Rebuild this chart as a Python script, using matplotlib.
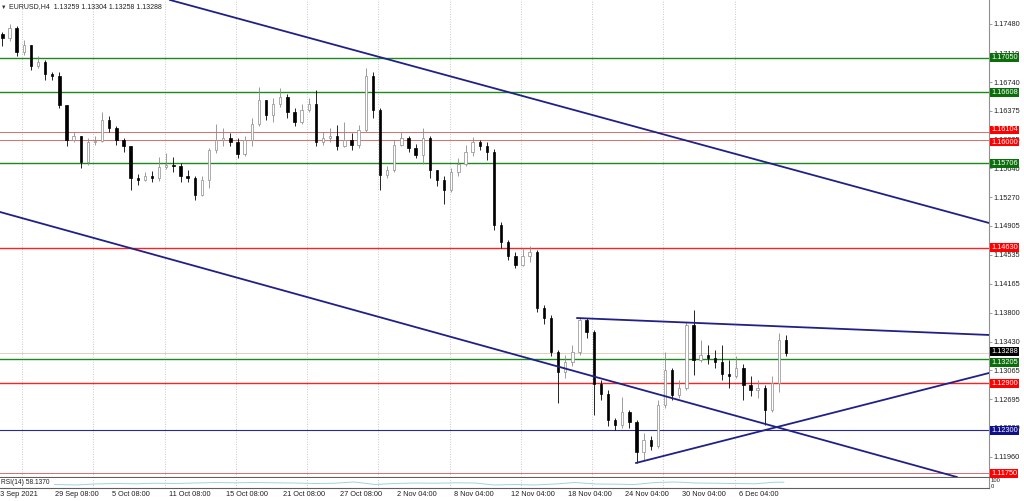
import matplotlib.pyplot as plt
import matplotlib.transforms as mtransforms

plt.rcParams['font.family'] = ['Liberation Sans', 'DejaVu Sans']

# EURUSD H4 candles, each drawn candle groups 3 H4 bars (open = previous close)
first_open = 1.1735
closes = [1.1730, 1.1743, 1.1712, 1.1721, 1.1694, 1.1700, 1.1684, 1.1682, 1.1645, 1.1600,
          1.1605, 1.1572, 1.1598, 1.1599, 1.1626, 1.1615, 1.1600, 1.1592, 1.1552, 1.1549,
          1.1554, 1.1552, 1.1566, 1.1568, 1.1567, 1.1554, 1.1552, 1.1530, 1.1549, 1.1587,
          1.1600, 1.1603, 1.1598, 1.1582, 1.1600, 1.1620, 1.1651, 1.1632, 1.1646, 1.1655,
          1.1636, 1.1623, 1.1638, 1.1646, 1.1598, 1.1603, 1.1605, 1.1592, 1.1600, 1.1594,
          1.1613, 1.1682, 1.1638, 1.1555, 1.1562, 1.1594, 1.1603, 1.1590, 1.1581, 1.1603,
          1.1562, 1.1549, 1.1536, 1.1559, 1.1570, 1.1585, 1.1598, 1.1592, 1.1585, 1.1492,
          1.1470, 1.1452, 1.1441, 1.1452, 1.1457, 1.1386, 1.1373, 1.1330, 1.1304, 1.1317,
          1.1330, 1.1371, 1.1355, 1.1289, 1.1276, 1.1243, 1.1237, 1.1253, 1.1241, 1.1202,
          1.1218, 1.1210, 1.1262, 1.1307, 1.1275, 1.1284, 1.1364, 1.1320, 1.1326, 1.1322,
          1.1317, 1.1302, 1.1299, 1.1309, 1.1288, 1.1281, 1.1284, 1.1256, 1.1290, 1.1345,
          1.13288]
highs = [1.1738, 1.1748, 1.1745, 1.1728, 1.1721, 1.1707, 1.1702, 1.1687, 1.1687, 1.1645,
         1.1610, 1.1605, 1.1603, 1.1605, 1.1636, 1.1631, 1.1618, 1.1603, 1.1592, 1.1557,
         1.1559, 1.1561, 1.1578, 1.1584, 1.1578, 1.1571, 1.1562, 1.1554, 1.1554, 1.1590,
         1.1620, 1.1615, 1.1609, 1.1603, 1.1605, 1.1628, 1.1668, 1.1651, 1.1654, 1.1666,
         1.1659, 1.1641, 1.1646, 1.1654, 1.1664, 1.1610, 1.1615, 1.1619, 1.1623, 1.1609,
         1.1619, 1.1692, 1.1687, 1.1641, 1.1567, 1.1600, 1.1610, 1.1605, 1.1595, 1.1615,
         1.1605, 1.1562, 1.1554, 1.1564, 1.1577, 1.1594, 1.1604, 1.1600, 1.1598, 1.1588,
         1.1496, 1.1472, 1.1457, 1.1462, 1.1465, 1.1460, 1.1390, 1.1377, 1.1332, 1.1326,
         1.1339, 1.1374, 1.1373, 1.1358, 1.1294, 1.1281, 1.1246, 1.1272, 1.1256, 1.1243,
         1.1227, 1.1223, 1.1269, 1.1330, 1.1310, 1.1294, 1.1368, 1.1383, 1.1345, 1.1339,
         1.1332, 1.1339, 1.1320, 1.1325, 1.1315, 1.1299, 1.1294, 1.1288, 1.1299, 1.1354,
         1.1352]
lows = [1.1720, 1.1726, 1.1707, 1.1708, 1.1689, 1.1692, 1.1677, 1.1677, 1.1641, 1.1592,
        1.1598, 1.1564, 1.1568, 1.1594, 1.1598, 1.1610, 1.1594, 1.1585, 1.1536, 1.1543,
        1.1548, 1.1547, 1.1548, 1.1563, 1.1559, 1.1547, 1.1547, 1.1524, 1.1529, 1.1539,
        1.1583, 1.1592, 1.1592, 1.1577, 1.1580, 1.1592, 1.1618, 1.1626, 1.1623, 1.1642,
        1.1628, 1.1618, 1.1620, 1.1636, 1.1592, 1.1594, 1.1598, 1.1587, 1.1591, 1.1587,
        1.1590, 1.1610, 1.1628, 1.1536, 1.1552, 1.1559, 1.1592, 1.1585, 1.1577, 1.1570,
        1.1552, 1.1541, 1.1519, 1.1534, 1.1554, 1.1567, 1.1580, 1.1587, 1.1575, 1.1485,
        1.1462, 1.1447, 1.1437, 1.1439, 1.1445, 1.1381, 1.1366, 1.1325, 1.1265, 1.1297,
        1.1312, 1.1326, 1.1348, 1.1250, 1.1269, 1.1235, 1.1230, 1.1233, 1.1233, 1.1188,
        1.1192, 1.1205, 1.1207, 1.1258, 1.1269, 1.1271, 1.1281, 1.1301, 1.1317, 1.1315,
        1.1309, 1.1294, 1.1284, 1.1297, 1.1269, 1.1274, 1.1271, 1.1237, 1.1253, 1.1279,
        1.1325]

# horizontal levels
green_levels = [1.17050, 1.16608, 1.15706, 1.13205]
red_levels = [1.14630, 1.12900]
pink_levels = [1.16104, 1.16000, 1.11750]
blue_levels = [1.12300]
bid = 1.13288

# trend lines: (bar index, price) pairs
channel_lines = [((71.6, 1.17786), (416.4, 1.14943)),
                 ((0.0, 1.15083), (401.3, 1.11717))]
ray_lines = [((243.0, 1.13731), (416.4, 1.13515)),
             ((267.8, 1.11883), (416.4, 1.13030))]

price_ticks = [1.11960, 1.12330, 1.12695, 1.13065, 1.13430, 1.13800, 1.14165, 1.14535,
               1.14905, 1.15270, 1.15640, 1.16005, 1.16375, 1.16740, 1.17110, 1.17480]

date_pos = [-1.5, 23, 47, 71, 95, 119, 143, 167, 191, 215, 239, 263, 287, 311]
date_labels = ['23 Sep 2021', '29 Sep 08:00', '5 Oct 08:00', '11 Oct 08:00', '15 Oct 08:00',
               '21 Oct 08:00', '27 Oct 08:00', '2 Nov 04:00', '8 Nov 04:00', '12 Nov 04:00',
               '18 Nov 04:00', '24 Nov 04:00', '30 Nov 04:00', '6 Dec 04:00']

rsi_pos = [23, 32, 40, 48, 57, 65, 74, 82, 91, 99, 107, 116, 124, 133, 141, 149, 158, 166, 175,
           183, 192, 200, 208, 217, 225, 234, 242, 251, 259, 267, 276, 284, 293, 301, 309, 318,
           326, 330]
rsi_vals = [35, 30, 40, 45, 42, 48, 45, 50, 55, 52, 55, 52, 50, 45, 48, 60, 35, 45, 50,
            48, 52, 50, 30, 35, 30, 40, 55, 40, 38, 35, 55, 60, 50, 48, 45, 42, 58, 58.137]

W, H = 1024, 501
XMAX = 416.4
PX = 0.0001275  # price per pixel, used to nudge labels apart like the terminal does
fig = plt.figure(figsize=(10.24, 5.01), dpi=100)
ax = fig.add_axes([0, 24 / H, 989 / W, 477 / H])
rsi = fig.add_axes([0, 13 / H, 989 / W, 10 / H])

ax.set_xlim(0, XMAX)
ax.set_ylim(1.11704, 1.17786)
rsi.set_xlim(0, XMAX)
rsi.set_ylim(0, 100)

# vertical dotted grid (only where bars exist)
grid_x = [9.3 + 30 * k for k in range(11)]
for a in (ax, rsi):
    for gx in grid_x:
        a.axvline(gx, color='#b8b8b8', lw=0.6, ls=(0, (1, 2)), zorder=0)

# candles
opens = [first_open] + closes[:-1]
xs = [3 * k + 1 for k in range(len(closes))]
for x, o, h, l, c in zip(xs, opens, highs, lows, closes):
    up = c >= o
    col = '#8c8c8c' if up else 'black'
    ax.vlines(x, l, h, colors=col, lw=0.6, zorder=3)
    body = max(abs(c - o), 0.00003)
    ax.bar(x, body, bottom=min(o, c), width=1.0, facecolor='white' if up else 'black',
           edgecolor=col, linewidth=0.5, zorder=4)

# levels
for p in green_levels:
    ax.axhline(p, color='#1b8a1b', lw=1.0, zorder=2)
for p in red_levels:
    ax.axhline(p, color='#ff2020', lw=1.0, zorder=2)
for p in pink_levels:
    ax.axhline(p, color='#e06b6b', lw=0.7, zorder=2)
for p in blue_levels:
    ax.axhline(p, color='#2a2a96', lw=0.8, zorder=2)
ax.axhline(bid, color='#dccbb0', lw=0.6, zorder=2)

# trend lines
for p1, p2 in channel_lines:
    ax.axline(p1, p2, color='#202088', lw=1.3, zorder=5)
for (x1, y1), (x2, y2) in ray_lines:
    slope = (y2 - y1) / (x2 - x1)
    ax.plot([x1, XMAX + 5], [y1, y1 + slope * (XMAX + 5 - x1)], color='#202088', lw=1.3,
            zorder=5)

# axes styling
for a in (ax, rsi):
    for s in ('top', 'left'):
        a.spines[s].set_visible(False)
    a.spines['right'].set_color('#909090')
    a.spines['right'].set_linewidth(0.8)
    a.spines['bottom'].set_color('#606060')
    a.spines['bottom'].set_linewidth(0.8)
    a.set_xticks([])
ax.yaxis.tick_right()
ax.set_yticks(price_ticks)
ax.set_yticklabels([f'{p:.5f}' for p in price_ticks])
ax.tick_params(axis='y', length=2, width=0.6, colors='#909090', labelcolor='#202020',
               labelsize=5.3, pad=1.5)
rsi.set_yticks([])

# price labels on the right (some nudged so they do not overlap)
nudge = {1.16104: 2, 1.16000: -2, 1.13205: -3, bid: 1}
trans = mtransforms.blended_transform_factory(ax.transAxes, ax.transData)
labels = ([(p, '#0a6e0a') for p in green_levels] + [(p, '#ff0000') for p in red_levels] +
          [(p, '#ff0000') for p in pink_levels] + [(p, '#10108a') for p in blue_levels] +
          [(bid, 'black')])
for p, bg in labels:
    ax.text(1.0 + 2 / 989, p + nudge.get(p, 0) * PX, f'{p:.5f}', transform=trans,
            color='white', fontsize=5.3, va='center', ha='left', clip_on=False, zorder=10,
            bbox=dict(boxstyle='square,pad=0.12', fc=bg, ec='none'))

# RSI pane
rsi.plot(rsi_pos, rsi_vals, color='#9fd3df', lw=0.7)
fig.text(1 / W, 1 - 483 / H, 'RSI(14) 58.1370', fontsize=4.8, va='center', ha='left',
         color='#202020')
fig.text(991 / W, 1 - 481 / H, '100', fontsize=4.2, va='center', ha='left', color='#202020')
fig.text(991 / W, 1 - 486 / H, '0', fontsize=4.2, va='center', ha='left', color='#202020')

# date labels
dtrans = mtransforms.blended_transform_factory(rsi.transData, fig.transFigure)
for pos, lab in zip(date_pos, date_labels):
    rsi.text(pos, 1 - 494 / H, lab, transform=dtrans, fontsize=5.3, ha='left', va='center',
             color='#202020', clip_on=False)

# header
fig.text(1 / W, 1 - 7 / H, '\u25bc', fontsize=4, va='center', ha='left', color='#303030')
fig.text(9 / W, 1 - 7 / H, 'EURUSD,H4  1.13259 1.13304 1.13258 1.13288', fontsize=5,
         va='center', ha='left', color='#202020')

fig.savefig('out.png', dpi=100, facecolor='white')
